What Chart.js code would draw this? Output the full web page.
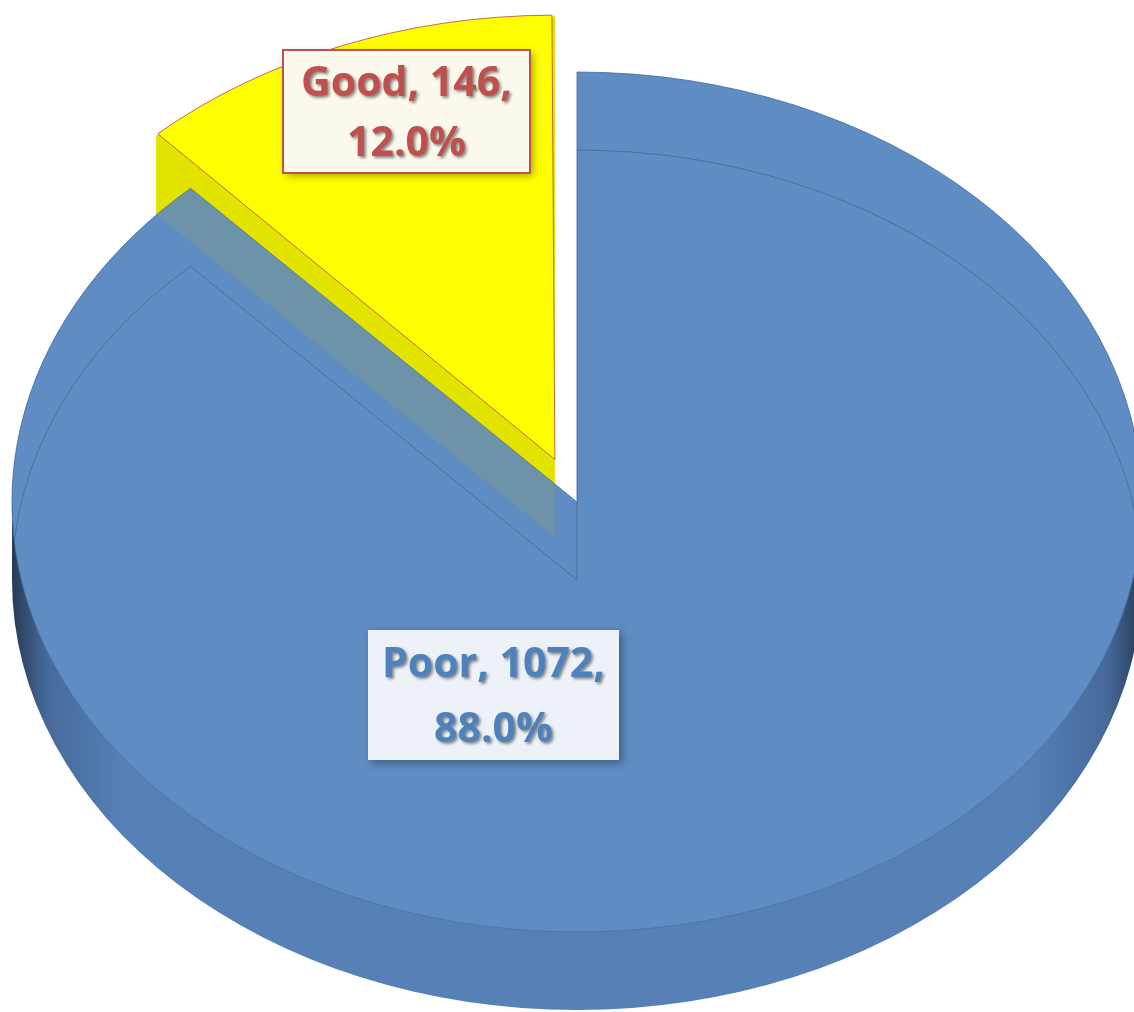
<!DOCTYPE html>
<html>
<head>
<meta charset="utf-8">
<script src="https://cdn.jsdelivr.net/npm/chart.js@4"></script>
<style>
html, body { margin: 0; padding: 0; background: #fff; }
#wrap { width: 1134px; height: 1012px; position: relative; overflow: hidden; }
</style>
</head>
<body>
<div id="wrap"><canvas id="pieChart"></canvas></div>
<script>
const LABELS = ['Poor', 'Good'];
const COUNTS = [1072, 146];
const TOP_COLORS = ['#5f8cc3', '#ffff00'];
const SIDE_COLORS = ['#5781b7', '#e3e300'];
const EXPLODE = [0, 240];

const TILT = 0.761;  // vertical squash of the pie
const DEPTH = 78;    // thickness of the rim

const total = COUNTS.reduce((a, b) => a + b, 0);

// screen geometry of one slice (after squash + explode)
function arcGeom(arc, cy) {
  const p = arc.getProps(['x', 'y', 'startAngle', 'endAngle', 'outerRadius', 'circumference']);
  const off = (arc.options.offset || 0) / 4;
  const half = (p.startAngle + p.endAngle) / 2;
  const fix = 1 - Math.sin(Math.min(Math.PI, p.circumference || 0));
  return {
    x: p.x + Math.cos(half) * off,
    y: cy + (p.y - cy + Math.sin(half) * off) * TILT,
    r: p.outerRadius + off * fix,
    a0: p.startAngle,
    a1: p.endAngle
  };
}

function wedge(ctx, g, dy) {
  ctx.moveTo(g.x, g.y + dy);
  ctx.ellipse(g.x, g.y + dy, g.r, g.r * TILT, 0, g.a0, g.a1);
  ctx.closePath();
}

const pie3d = {
  id: 'pie3d',
  beforeDatasetsDraw(chart) {
    const ctx = chart.ctx;
    const arcs = chart.getDatasetMeta(0).data;
    const cy = arcs[0].y;
    // rim first
    arcs.forEach((arc, i) => {
      const g = arcGeom(arc, cy);
      ctx.save();
      ctx.beginPath();
      for (let k = DEPTH; k > 0; k--) wedge(ctx, g, k);
      if (i === 0) {
        const grad = ctx.createLinearGradient(g.x - g.r, 0, g.x + g.r, 0);
        grad.addColorStop(0, '#263a55');
        grad.addColorStop(0.03, '#46699a');
        grad.addColorStop(0.1, '#5680b6');
        grad.addColorStop(0.9, '#5680b6');
        grad.addColorStop(0.97, '#46699a');
        grad.addColorStop(1, '#263a55');
        ctx.fillStyle = grad;
      } else {
        ctx.fillStyle = SIDE_COLORS[i];
      }
      ctx.fill();
      ctx.restore();
    });
    // squash the top faces drawn by Chart.js
    ctx.save();
    ctx.translate(0, cy);
    ctx.scale(1, TILT);
    ctx.translate(0, -cy);
  },
  afterDatasetsDraw(chart) {
    const ctx = chart.ctx;
    ctx.restore();
    const arcs = chart.getDatasetMeta(0).data;
    const cy = arcs[0].y;
    const poor = arcGeom(arcs[0], cy);
    const good = arcGeom(arcs[1], cy);

    // yellow rim seen through the blue top
    ctx.save();
    ctx.beginPath();
    wedge(ctx, poor, 0);
    ctx.clip();
    ctx.beginPath();
    for (let k = DEPTH; k > 0; k--) wedge(ctx, good, k);
    ctx.fillStyle = 'rgba(190,190,0,0.14)';
    ctx.fill();
    // bottom outline seen through the top
    ctx.beginPath();
    wedge(ctx, poor, DEPTH);
    ctx.strokeStyle = 'rgba(45,75,115,0.45)';
    ctx.lineWidth = 1;
    ctx.stroke();
    ctx.restore();
  },
  afterDraw(chart) {
    const ctx = chart.ctx;
    const arcs = chart.getDatasetMeta(0).data;
    const cx = arcs[0].x, cy = arcs[0].y;
    const boxes = [
      { dx: -209, dy: 128, w: 251, h: 130, fill: '#edf2f8', border: null, color: '#4f81bd', gap: 65 },
      { dx: -294, dy: -452, w: 247, h: 123, fill: '#fbf8ec', border: '#c0504d', color: '#c0504d', gap: 60 }
    ];
    boxes.forEach((b, i) => {
      const x = cx + b.dx, y = cy + b.dy;
      ctx.save();
      ctx.shadowColor = 'rgba(0,0,0,0.35)';
      ctx.shadowBlur = 8;
      ctx.shadowOffsetX = 3;
      ctx.shadowOffsetY = 3;
      ctx.fillStyle = b.fill;
      ctx.fillRect(x, y, b.w, b.h);
      ctx.restore();
      if (b.border) {
        ctx.save();
        ctx.strokeStyle = b.border;
        ctx.lineWidth = 2;
        ctx.strokeRect(x, y, b.w, b.h);
        ctx.restore();
      }
      const pct = (COUNTS[i] / total * 100).toFixed(1) + '%';
      ctx.save();
      ctx.font = 'bold 41px "Open Sans"';
      ctx.textAlign = 'center';
      ctx.textBaseline = 'alphabetic';
      ctx.fillStyle = b.color;
      ctx.shadowColor = 'rgba(0,0,0,0.45)';
      ctx.shadowBlur = 3;
      ctx.shadowOffsetX = 2;
      ctx.shadowOffsetY = 2;
      const mid = x + b.w / 2;
      const base = y + b.h / 2 - b.gap / 2 + 14;
      ctx.fillText(LABELS[i] + ', ' + COUNTS[i] + ',', mid, base);
      ctx.fillText(pct, mid, base + b.gap);
      ctx.restore();
    });
  }
};

new Chart(document.getElementById('pieChart'), {
  type: 'pie',
  data: {
    labels: LABELS,
    datasets: [{
      data: COUNTS,
      backgroundColor: TOP_COLORS,
      borderColor: ['#4b74a8', '#c0504d'],
      borderWidth: 1,
      offset: EXPLODE,
      radius: 565,
      clip: false
    }]
  },
  options: {
    responsive: true,
    maintainAspectRatio: false,
    animation: false,
    events: [],
    layout: { padding: { left: 20, right: 0, top: 0, bottom: 8 } },
    plugins: {
      legend: { display: false },
      tooltip: { enabled: false }
    }
  },
  plugins: [pie3d]
});
</script>
</body>
</html>
